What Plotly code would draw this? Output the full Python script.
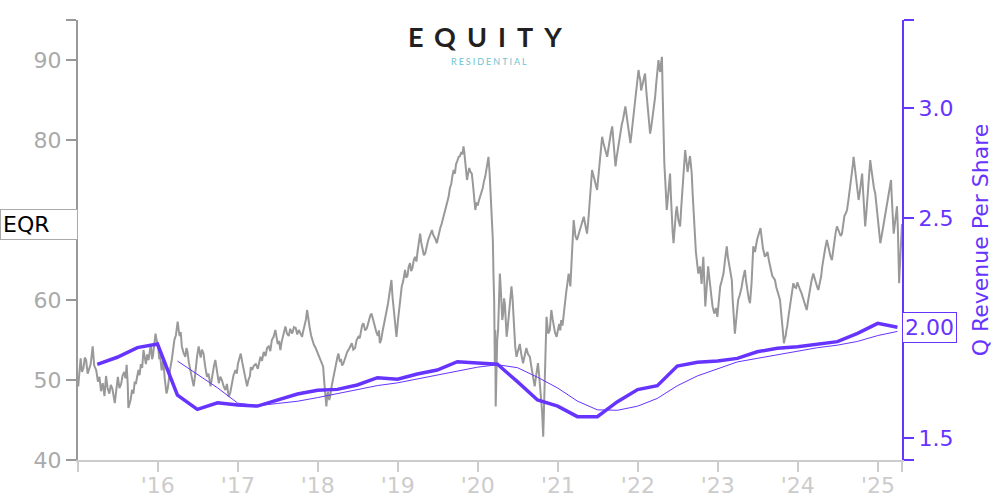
import pandas as pd
import plotly.graph_objects as go

# ---------------- data ----------------
eqr_close_points = [
    # 2015
    ("2015-01-03",49.2),("2015-01-08",51.5),("2015-01-14",52.7),("2015-01-20",51.0),("2015-01-27",51.5),("2015-02-02",52.8),("2015-02-08",52.5),("2015-02-15",50.8),("2015-02-22",51.3),("2015-03-01",52.0),("2015-03-10",54.2),("2015-03-17",51.8),("2015-03-26",51.25),("2015-04-03",49.8),("2015-04-10",50.4),("2015-04-17",48.6),("2015-04-25",49.6),("2015-05-03",48.0),("2015-05-10",50.5),("2015-05-17",49.0),("2015-05-25",48.3),("2015-06-01",49.4),("2015-06-08",48.9),("2015-06-14",47.6),("2015-06-19",47.1),("2015-06-26",48.8),("2015-07-03",50.4),("2015-07-10",49.0),("2015-07-18",49.5),("2015-07-25",50.6),("2015-08-01",51.0),("2015-08-07",50.2),("2015-08-12",51.9),("2015-08-17",49.5),("2015-08-20",46.5),("2015-08-25",47.0),("2015-08-30",47.5),("2015-09-06",48.8),("2015-09-12",48.3),("2015-09-18",49.8),("2015-09-23",49.5),("2015-09-29",50.4),("2015-10-05",51.25),("2015-10-10",50.6),("2015-10-16",52.0),("2015-10-22",51.5),("2015-10-28",53.75),("2015-11-03",52.8),("2015-11-08",52.0),("2015-11-14",53.2),("2015-11-20",52.5),("2015-11-26",53.6),("2015-12-01",54.5),("2015-12-06",52.6),("2015-12-10",53.0),("2015-12-16",54.4),("2015-12-22",55.8),("2015-12-28",54.8),
    # 2016
    ("2016-01-03",54.2),("2016-01-08",52.6),("2016-01-12",53.0),("2016-01-19",51.2),("2016-01-26",52.5),("2016-02-02",50.2),("2016-02-10",48.3),("2016-02-16",49.0),("2016-02-22",50.5),("2016-02-28",51.6),("2016-03-05",52.5),("2016-03-11",54.0),("2016-03-17",55.0),("2016-03-24",55.6),("2016-04-01",57.3),("2016-04-06",56.2),("2016-04-10",55.5),("2016-04-15",56.0),("2016-04-20",54.2),("2016-04-28",53.4),("2016-05-06",52.9),("2016-05-11",54.0),("2016-05-16",53.5),("2016-05-22",52.2),("2016-05-28",51.25),("2016-06-04",50.5),("2016-06-13",49.2),("2016-06-18",50.2),("2016-06-22",51.5),("2016-06-29",53.0),("2016-07-06",54.2),("2016-07-11",53.4),("2016-07-15",52.8),("2016-07-21",53.8),("2016-07-28",53.3),("2016-08-04",51.8),("2016-08-13",50.4),("2016-08-20",50.8),("2016-08-29",49.2),("2016-09-03",50.0),("2016-09-08",51.0),("2016-09-14",51.8),("2016-09-20",52.5),("2016-09-27",51.2),("2016-10-06",49.6),("2016-10-13",50.4),("2016-10-20",50.0),("2016-10-28",49.2),("2016-11-05",48.75),("2016-11-12",49.5),("2016-11-20",47.9),("2016-11-27",48.4),("2016-12-04",49.5),("2016-12-12",50.6),("2016-12-21",51.25),("2016-12-27",50.8),
    # 2017
    ("2017-01-01",52.0),("2017-01-07",52.6),("2017-01-14",53.3),("2017-01-21",52.2),("2017-01-28",51.25),("2017-02-04",50.0),("2017-02-12",49.2),("2017-02-18",50.0),("2017-02-25",50.5),("2017-03-01",51.6),("2017-03-07",51.25),("2017-03-15",51.8),("2017-03-24",52.0),("2017-04-02",51.4),("2017-04-08",52.4),("2017-04-14",52.9),("2017-04-21",52.4),("2017-04-29",53.5),("2017-05-07",53.0),("2017-05-14",54.0),("2017-05-22",54.2),("2017-05-29",53.6),("2017-06-05",55.0),("2017-06-13",55.4),("2017-06-21",56.25),("2017-06-27",55.2),("2017-07-02",54.5),("2017-07-08",54.9),("2017-07-14",53.75),("2017-07-20",54.8),("2017-07-25",55.5),("2017-07-31",56.0),("2017-08-06",56.7),("2017-08-13",55.8),("2017-08-21",55.5),("2017-08-28",56.4),("2017-09-06",55.8),("2017-09-14",56.6),("2017-09-22",56.5),("2017-09-29",55.7),("2017-10-06",56.25),("2017-10-14",55.8),("2017-10-21",55.4),("2017-10-27",56.2),("2017-11-02",57.0),("2017-11-08",57.6),("2017-11-13",58.75),("2017-11-19",57.4),("2017-11-25",56.5),("2017-12-01",55.6),("2017-12-06",55.0),("2017-12-14",54.4),("2017-12-22",54.0),("2017-12-28",53.6),
    # 2018
    ("2018-01-03",53.3),("2018-01-10",52.6),("2018-01-20",52.1),("2018-01-25",51.7),("2018-01-31",49.5),("2018-02-05",48.0),("2018-02-09",46.7),("2018-02-13",48.2),("2018-02-17",48.5),("2018-02-22",47.5),("2018-02-26",47.9),("2018-03-05",49.2),("2018-03-13",50.4),("2018-03-19",51.2),("2018-03-25",52.0),("2018-03-31",52.8),("2018-04-05",53.3),("2018-04-11",52.4),("2018-04-17",52.5),("2018-04-22",51.8),("2018-04-28",52.1),("2018-05-06",52.9),("2018-05-15",53.5),("2018-05-24",53.9),("2018-06-05",54.6),("2018-06-12",53.8),("2018-06-20",54.0),("2018-06-27",55.0),("2018-07-05",55.4),("2018-07-11",55.2),("2018-07-17",56.0),("2018-07-22",56.8),("2018-07-28",57.1),("2018-08-05",56.2),("2018-08-13",56.5),("2018-08-21",57.4),("2018-08-28",58.0),("2018-09-03",58.3),("2018-09-10",57.5),("2018-09-18",56.8),("2018-09-25",56.0),("2018-10-02",55.5),("2018-10-07",56.2),("2018-10-11",54.6),("2018-10-17",55.0),("2018-10-23",56.0),("2018-10-29",56.8),("2018-11-03",57.5),("2018-11-10",58.2),("2018-11-17",59.5),("2018-11-25",61.0),("2018-12-03",62.5),("2018-12-08",60.4),("2018-12-14",58.5),("2018-12-20",57.0),("2018-12-26",55.4),
    # 2019
    ("2019-01-02",57.5),("2019-01-07",58.5),("2019-01-13",60.2),("2019-01-19",61.7),("2019-01-26",62.4),("2019-02-03",63.75),("2019-02-08",62.8),("2019-02-14",63.0),("2019-02-20",64.2),("2019-02-26",64.6),("2019-03-03",63.6),("2019-03-09",64.0),("2019-03-15",65.0),("2019-03-21",65.4),("2019-03-27",64.8),("2019-04-01",66.0),("2019-04-07",67.0),("2019-04-13",68.3),("2019-04-18",67.2),("2019-04-24",66.5),("2019-04-30",65.6),("2019-05-06",65.8),("2019-05-13",66.8),("2019-05-20",67.5),("2019-05-27",68.0),("2019-06-06",68.75),("2019-06-11",68.2),("2019-06-16",68.0),("2019-06-22",67.6),("2019-06-28",67.1),("2019-07-06",68.2),("2019-07-14",69.0),("2019-07-21",69.6),("2019-07-29",70.4),("2019-08-04",71.0),("2019-08-10",71.5),("2019-08-16",72.4),("2019-08-21",72.9),("2019-08-27",74.0),("2019-09-02",74.5),("2019-09-08",75.6),("2019-09-13",76.25),("2019-09-19",75.8),("2019-09-24",77.0),("2019-09-30",77.4),("2019-10-06",77.9),("2019-10-12",78.0),("2019-10-18",78.5),("2019-10-23",78.2),("2019-10-28",79.2),("2019-11-01",78.4),("2019-11-05",77.5),("2019-11-09",76.0),("2019-11-13",75.0),("2019-11-18",75.8),("2019-11-23",76.5),("2019-11-29",76.0),("2019-12-05",75.8),("2019-12-10",74.5),("2019-12-14",73.0),("2019-12-18",72.0),("2019-12-21",71.25),("2019-12-27",72.2),
    # 2020
    ("2020-01-01",71.8),("2020-01-06",72.4),("2020-01-12",72.9),("2020-01-18",73.5),("2020-01-24",74.0),("2020-01-29",74.8),("2020-02-04",75.4),("2020-02-10",76.4),("2020-02-15",77.2),("2020-02-19",77.9),("2020-02-24",76.0),("2020-03-01",72.9),("2020-03-06",70.4),("2020-03-10",67.5),("2020-03-13",63.0),("2020-03-16",60.0),("2020-03-19",52.0),("2020-03-21",56.25),("2020-03-23",46.7),("2020-03-26",51.0),("2020-03-30",55.0),("2020-04-03",56.25),("2020-04-07",60.5),("2020-04-11",63.3),("2020-04-15",61.5),("2020-04-18",60.0),("2020-04-22",57.5),("2020-04-26",58.3),("2020-04-30",60.2),("2020-05-04",59.5),("2020-05-08",57.2),("2020-05-12",55.4),("2020-05-17",56.6),("2020-05-22",58.0),("2020-05-28",60.0),("2020-06-03",61.7),("2020-06-08",60.2),("2020-06-14",57.0),("2020-06-20",54.2),("2020-06-26",52.9),("2020-07-03",53.6),("2020-07-11",54.5),("2020-07-18",53.2),("2020-07-26",52.1),("2020-08-02",53.0),("2020-08-10",54.0),("2020-08-18",53.2),("2020-08-26",52.9),("2020-09-01",51.8),("2020-09-06",51.0),("2020-09-12",50.2),("2020-09-17",49.2),("2020-09-24",50.6),("2020-10-02",52.1),("2020-10-08",50.4),("2020-10-15",48.0),("2020-10-21",46.0),("2020-10-26",42.9),("2020-10-30",46.5),("2020-11-02",50.0),("2020-11-06",54.0),("2020-11-10",57.9),("2020-11-14",56.8),("2020-11-18",55.8),("2020-11-25",56.25),("2020-12-02",58.75),("2020-12-08",57.6),("2020-12-13",56.5),("2020-12-19",55.9),("2020-12-26",55.4),
    # 2021
    ("2021-01-01",56.2),("2021-01-07",57.0),("2021-01-12",56.2),("2021-01-16",57.5),("2021-01-22",56.8),("2021-01-27",58.3),("2021-02-02",59.6),("2021-02-08",61.0),("2021-02-14",62.2),("2021-02-19",63.3),("2021-02-24",62.4),("2021-02-27",61.7),("2021-03-03",64.0),("2021-03-06",66.0),("2021-03-10",68.0),("2021-03-14",70.0),("2021-03-18",69.0),("2021-03-22",68.0),("2021-03-29",67.5),("2021-04-05",68.2),("2021-04-14",69.0),("2021-04-21",69.8),("2021-04-29",70.4),("2021-05-06",69.4),("2021-05-14",68.3),("2021-05-20",70.0),("2021-05-25",72.0),("2021-05-31",74.0),("2021-06-06",76.25),("2021-06-12",75.6),("2021-06-17",75.0),("2021-06-23",74.2),("2021-06-29",73.75),("2021-07-05",75.5),("2021-07-10",77.0),("2021-07-16",78.8),("2021-07-22",80.4),("2021-07-28",79.6),("2021-08-02",79.0),("2021-08-08",78.4),("2021-08-14",77.9),("2021-08-20",79.0),("2021-08-25",80.0),("2021-08-31",80.9),("2021-09-06",81.7),("2021-09-10",80.4),("2021-09-14",79.0),("2021-09-18",77.6),("2021-09-21",76.7),("2021-09-26",77.8),("2021-10-02",79.0),("2021-10-08",80.2),("2021-10-14",81.25),("2021-10-20",82.0),("2021-10-25",82.5),("2021-10-31",83.4),("2021-11-05",84.2),("2021-11-11",83.0),("2021-11-17",82.0),("2021-11-22",80.6),("2021-11-28",79.6),("2021-12-04",81.0),("2021-12-10",82.5),("2021-12-16",83.8),("2021-12-21",85.0),("2021-12-28",87.0),
    # 2022
    ("2022-01-04",88.75),("2022-01-08",88.0),("2022-01-12",87.5),("2022-01-16",86.2),("2022-01-19",86.7),("2022-01-23",87.0),("2022-01-27",87.5),("2022-01-31",88.0),("2022-02-03",88.3),("2022-02-09",86.0),("2022-02-15",84.0),("2022-02-20",82.4),("2022-02-26",80.8),("2022-03-04",81.8),("2022-03-10",83.0),("2022-03-15",84.2),("2022-03-21",85.4),("2022-03-25",86.8),("2022-03-29",88.0),("2022-04-02",89.2),("2022-04-05",90.0),("2022-04-09",89.0),("2022-04-13",88.5),("2022-04-17",89.6),("2022-04-21",90.4),("2022-04-25",85.0),("2022-04-28",79.6),("2022-05-02",77.0),("2022-05-06",75.0),("2022-05-10",73.0),("2022-05-13",71.25),("2022-05-17",72.4),("2022-05-21",73.5),("2022-05-25",74.8),("2022-05-28",75.8),("2022-06-01",73.0),("2022-06-05",70.0),("2022-06-09",68.4),("2022-06-13",67.1),("2022-06-16",68.6),("2022-06-20",70.0),("2022-06-24",71.0),("2022-06-28",71.7),("2022-07-01",70.6),("2022-07-05",70.0),("2022-07-09",69.6),("2022-07-13",69.2),("2022-07-18",71.5),("2022-07-24",74.0),("2022-07-29",76.5),("2022-08-05",78.75),("2022-08-09",77.8),("2022-08-12",77.0),("2022-08-16",76.0),("2022-08-20",76.7),("2022-08-24",77.6),("2022-08-27",78.0),("2022-08-31",77.0),("2022-09-04",75.8),("2022-09-08",73.4),("2022-09-12",71.0),("2022-09-16",69.0),("2022-09-19",67.5),("2022-09-23",66.0),("2022-09-27",65.0),("2022-10-01",64.0),("2022-10-04",63.3),("2022-10-08",63.8),("2022-10-12",64.2),("2022-10-16",63.0),("2022-10-19",62.0),("2022-10-23",63.8),("2022-10-27",65.4),("2022-11-01",62.0),("2022-11-05",59.2),("2022-11-11",61.5),("2022-11-18",64.2),("2022-11-24",62.6),("2022-12-01",61.0),("2022-12-08",59.2),("2022-12-16",58.3),("2022-12-24",59.0),("2022-12-30",57.9),
    # 2023
    ("2023-01-05",60.0),("2023-01-12",61.7),("2023-01-19",62.4),("2023-01-27",63.3),("2023-02-03",65.0),("2023-02-11",66.7),("2023-02-16",65.4),("2023-02-22",64.5),("2023-02-28",63.4),("2023-03-06",62.5),("2023-03-10",60.0),("2023-03-14",58.0),("2023-03-20",55.8),("2023-03-26",57.5),("2023-04-04",60.0),("2023-04-11",60.6),("2023-04-19",61.5),("2023-04-27",62.8),("2023-05-05",63.75),("2023-05-10",62.4),("2023-05-16",61.0),("2023-05-22",60.2),("2023-05-28",59.6),("2023-06-04",62.0),("2023-06-12",66.7),("2023-06-20",66.0),("2023-06-29",67.5),("2023-07-07",68.2),("2023-07-15",69.0),("2023-07-21",67.6),("2023-07-26",66.5),("2023-08-04",65.4),("2023-08-10",65.8),("2023-08-16",66.0),("2023-08-22",65.0),("2023-08-27",64.2),("2023-09-02",63.6),("2023-09-07",63.0),("2023-09-13",62.8),("2023-09-19",62.5),("2023-09-25",61.6),("2023-09-30",61.0),("2023-10-06",60.6),("2023-10-12",60.0),("2023-10-17",58.4),("2023-10-21",57.0),("2023-10-26",55.5),("2023-10-30",54.6),("2023-11-03",55.2),("2023-11-07",55.5),("2023-11-10",56.2),("2023-11-14",56.7),("2023-11-20",58.0),("2023-11-27",59.5),("2023-12-04",60.8),("2023-12-12",62.1),("2023-12-18",61.6),("2023-12-24",61.5),("2023-12-30",62.2),
    # 2024
    ("2024-01-06",61.8),("2024-01-12",61.25),("2024-01-19",60.8),("2024-01-27",60.0),("2024-02-03",59.4),("2024-02-11",58.75),("2024-02-18",60.0),("2024-02-26",61.5),("2024-03-04",62.4),("2024-03-12",63.3),("2024-03-18",62.6),("2024-03-25",62.0),("2024-03-30",61.6),("2024-04-04",61.25),("2024-04-10",62.0),("2024-04-17",63.0),("2024-04-22",64.2),("2024-04-28",65.5),("2024-05-05",66.4),("2024-05-13",67.5),("2024-05-18",66.8),("2024-05-24",66.0),("2024-05-30",65.4),("2024-06-05",65.0),("2024-06-10",66.2),("2024-06-16",67.5),("2024-06-22",68.4),("2024-06-28",69.2),("2024-07-03",68.8),("2024-07-09",68.5),("2024-07-15",68.0),("2024-07-21",68.3),("2024-07-26",69.4),("2024-08-01",70.5),("2024-08-07",70.8),("2024-08-13",71.25),("2024-08-20",72.6),("2024-08-28",74.2),("2024-09-01",75.0),("2024-09-05",76.0),("2024-09-09",77.0),("2024-09-12",77.9),("2024-09-17",76.6),("2024-09-20",76.0),("2024-09-24",75.0),("2024-09-30",73.6),("2024-10-05",72.5),("2024-10-09",73.2),("2024-10-13",74.0),("2024-10-17",75.0),("2024-10-21",75.8),("2024-10-25",73.8),("2024-10-28",72.0),("2024-11-01",70.4),("2024-11-04",69.2),("2024-11-09",70.8),("2024-11-16",73.0),("2024-11-22",75.4),("2024-11-27",77.5),("2024-12-02",76.4),("2024-12-08",75.0),("2024-12-14",74.0),("2024-12-20",73.3),("2024-12-26",71.6),
    # 2025
    ("2025-01-01",70.0),("2025-01-06",68.6),("2025-01-12",67.1),("2025-01-18",68.0),("2025-01-24",69.0),("2025-01-30",70.0),("2025-02-04",70.8),("2025-02-10",71.8),("2025-02-16",73.0),("2025-02-22",74.0),("2025-03-02",75.0),("2025-03-05",73.0),("2025-03-08",71.0),("2025-03-11",69.4),("2025-03-14",68.3),("2025-03-18",69.2),("2025-03-22",70.0),("2025-03-26",71.0),("2025-03-29",71.7),("2025-04-02",69.0),("2025-04-04",66.0),("2025-04-08",62.1),("2025-04-10",63.4),("2025-04-13",65.0),("2025-04-17",67.5),("2025-04-21",69.5),
]
price_dates = [d for d, _ in eqr_close_points]
price_close = [v for _, v in eqr_close_points]

rev_dates = [
    "2015-03-31","2015-06-30","2015-09-30","2015-12-31",
    "2016-03-31","2016-06-30","2016-09-30","2016-12-31",
    "2017-03-31","2017-06-30","2017-09-30","2017-12-31",
    "2018-03-31","2018-06-30","2018-09-30","2018-12-31",
    "2019-03-31","2019-06-30","2019-09-30","2019-12-31",
    "2020-03-31","2020-06-30","2020-09-30","2020-12-31",
    "2021-03-31","2021-06-30","2021-09-30","2021-12-31",
    "2022-03-31","2022-06-30","2022-09-30","2022-12-31",
    "2023-03-31","2023-06-30","2023-09-30","2023-12-31",
    "2024-03-31","2024-06-30","2024-09-30","2024-12-31",
    "2025-03-31",
]
rev_per_share = [
    1.835, 1.867, 1.911, 1.927,
    1.695, 1.630, 1.660, 1.650,
    1.645, 1.673, 1.700, 1.717,
    1.721, 1.741, 1.774, 1.767,
    1.791, 1.809, 1.847, 1.841,
    1.835, 1.756, 1.673, 1.645,
    1.597, 1.597, 1.665, 1.720,
    1.738, 1.827, 1.844, 1.850,
    1.862, 1.892, 1.908, 1.915,
    1.927, 1.938, 1.976, 2.021,
    2.003,
]

x_tick_vals = ["2015-01-02","2016-01-01","2017-01-01","2018-01-01","2019-01-01","2020-01-01",
               "2021-01-01","2022-01-01","2023-01-01","2024-01-01","2025-01-01","2025-04-21"]
x_tick_text = ["","'16","'17","'18","'19","'20","'21","'22","'23","'24","'25",""]
y_tick_vals = [40, 50, 60, 70, 80, 90, 95]
y_tick_text = ["40", "50", "60", "", "80", "90", ""]
y2_tick_vals = [1.4, 1.5, 2.0, 2.5, 3.0, 3.4]
y2_tick_text = ["", "1.5", "", "2.5", "3.0", ""]

# rolling 4-quarter average (thin line)
rev_series = pd.Series(rev_per_share, index=pd.to_datetime(rev_dates))
rev_avg = rev_series.rolling(4).mean().iloc[4:]

PURPLE = "#6633ff"
GREY = "#999999"
FONT = "DejaVu Sans"

fig = go.Figure()
fig.add_trace(go.Scatter(x=price_dates, y=price_close, mode="lines",
                         line=dict(color=GREY, width=2), yaxis="y", hoverinfo="skip"))
fig.add_trace(go.Scatter(x=rev_avg.index, y=rev_avg.values, mode="lines",
                         line=dict(color=PURPLE, width=1), yaxis="y2", hoverinfo="skip"))
fig.add_trace(go.Scatter(x=rev_dates, y=rev_per_share, mode="lines",
                         line=dict(color=PURPLE, width=3.5), yaxis="y2", hoverinfo="skip"))

fig.update_layout(
    width=1000, height=500, autosize=False,
    margin=dict(l=78, r=98, t=20, b=40, autoexpand=False),
    paper_bgcolor="white", plot_bgcolor="white",
    showlegend=False, hovermode=False,
    font=dict(family=FONT, size=22),
    xaxis=dict(
        type="date", range=["2015-01-02", "2025-04-21"], automargin=False,
        tickvals=x_tick_vals, ticktext=x_tick_text,
        showgrid=False, zeroline=False,
        showline=True, linecolor="#cccccc", linewidth=2,
        ticks="outside", ticklen=10, tickwidth=2, tickcolor="#cccccc",
        ticklabelstandoff=-5,
        tickfont=dict(color="#cccccc", size=22, family=FONT),
    ),
    yaxis=dict(
        range=[40, 95], tickvals=y_tick_vals, ticktext=y_tick_text, automargin=False,
        showgrid=False, zeroline=False,
        showline=True, linecolor=GREY, linewidth=2,
        ticks="outside", ticklen=10, tickwidth=2, tickcolor=GREY,
        tickfont=dict(color="#aaaaaa", size=22, family=FONT),
    ),
    yaxis2=dict(
        overlaying="y", side="right", anchor="x", automargin=False,
        range=[1.4, 3.4], tickvals=y2_tick_vals, ticktext=y2_tick_text,
        showgrid=False, zeroline=False,
        showline=True, linecolor=PURPLE, linewidth=2,
        ticks="outside", ticklen=10, tickwidth=2, tickcolor=PURPLE,
        tickfont=dict(color=PURPLE, size=22, family=FONT),
        title=dict(text="Q Revenue Per Share", font=dict(color=PURPLE, size=22, family=FONT), standoff=20),
    ),
)

# last-value labels
fig.add_annotation(xref="paper", x=0, xanchor="right", yref="y", y=price_close[-1],
                   text="EQR", showarrow=False, align="left", width=72,
                   font=dict(color="black", size=22, family=FONT),
                   bgcolor="white", bordercolor="#aaaaaa", borderwidth=1, borderpad=2)
fig.add_annotation(xref="paper", x=1, xanchor="left", yref="y2", y=rev_per_share[-1],
                   text=f"{rev_per_share[-1]:.2f}", showarrow=False,
                   font=dict(color=PURPLE, size=22, family=FONT),
                   bgcolor="white", bordercolor=PURPLE, borderwidth=1, borderpad=2)

# logo as text
fig.add_annotation(xref="paper", yref="paper", x=0.5, y=0.963, xanchor="center", yanchor="middle",
                   text='<span style="letter-spacing:11px">EQUITY</span>', showarrow=False,
                   font=dict(color="#231f20", size=27, family="Lato", weight="bold"))
fig.add_annotation(xref="paper", yref="paper", x=0.5, y=0.906, xanchor="center", yanchor="middle",
                   text='<span style="letter-spacing:2px">RESIDENTIAL</span>', showarrow=False,
                   font=dict(color="#6cc4d0", size=9, family="Lato"))

# remove the browser's default page margin so the 1000x500 figure fills the window
fig.write_html("out.html", config={"displayModeBar": False},
               post_script="document.body.style.margin='0';")
